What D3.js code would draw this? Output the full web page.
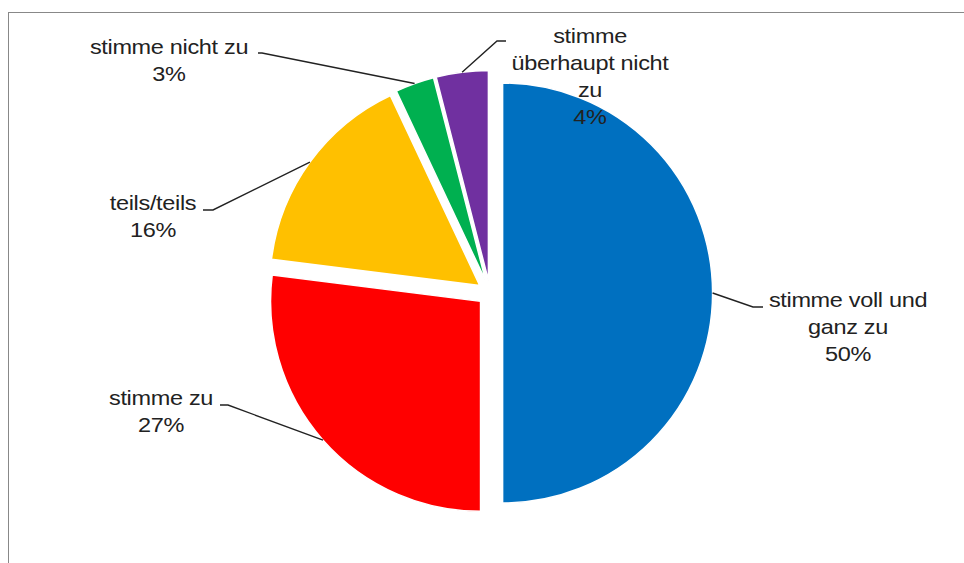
<!DOCTYPE html>
<html>
<head>
<meta charset="utf-8">
<script src="https://cdn.jsdelivr.net/npm/d3@7"></script>
<style>
  html, body { margin: 0; padding: 0; background: #fff; }
  svg { display: block; }
  text { font-family: "Liberation Sans", Arial, sans-serif; font-size: 21px; fill: #222; letter-spacing: -0.3px; }
</style>
</head>
<body>
<svg id="chart" width="964" height="563"></svg>
<script>
// ---- data ----
const categories = ["stimme voll und ganz zu", "stimme zu", "teils/teils", "stimme nicht zu", "stimme überhaupt nicht zu"];
const values = [50, 27, 16, 3, 4];
const colors = ["#0070C0", "#FF0000", "#FFC000", "#00B050", "#7030A0"];
const labelLines = [
  ["stimme voll und", "ganz zu", "50%"],
  ["stimme zu", "27%"],
  ["teils/teils", "16%"],
  ["stimme nicht zu", "3%"],
  ["stimme", "überhaupt nicht", "zu", "4%"]
];

// ---- layout (not data) ----
const cx = 490, cy = 293, R = 210, explode = 12.6;
const lineH = 27;
// label anchor (center x, first baseline y) and leader elbow
const labelLayout = [
  { x: 848, y: 307, elbow: [753, 307], end: [763, 307] },
  { x: 161, y: 405, elbow: [228, 405], end: [220, 405] },
  { x: 153, y: 210, elbow: [213, 210], end: [203, 210] },
  { x: 169, y: 54,  elbow: [262, 53],  end: [258, 53] },
  { x: 590, y: 43,  elbow: [497, 41],  end: [506, 41] }
];

const svg = d3.select("#chart");

// border
svg.append("rect")
  .attr("x", 8.5).attr("y", 12.5)
  .attr("width", 1000).attr("height", 600)
  .attr("fill", "none").attr("stroke", "#888").attr("stroke-width", 1);

const pie = d3.pie().sort(null).value(d => d).startAngle(0).endAngle(2 * Math.PI);
const arcs = pie(values);
const arc = d3.arc().innerRadius(0).outerRadius(R);

const g = svg.append("g").attr("transform", `translate(${cx},${cy})`);

function offset(a) {
  const m = (a.startAngle + a.endAngle) / 2;
  return [Math.sin(m) * explode, -Math.cos(m) * explode];
}

g.selectAll("path.slice")
  .data(arcs)
  .enter().append("path")
  .attr("class", "slice")
  .attr("d", arc)
  .attr("transform", d => { const o = offset(d); return `translate(${o[0]},${o[1]})`; })
  .attr("fill", (d, i) => colors[i])
  .attr("stroke", "#fff")
  .attr("stroke-width", 1.5);

// leader lines
arcs.forEach((a, i) => {
  const m = (a.startAngle + a.endAngle) / 2;
  const o = offset(a);
  const px = cx + o[0] + Math.sin(m) * R;
  const py = cy + o[1] - Math.cos(m) * R;
  const L = labelLayout[i];
  svg.append("polyline")
    .attr("points", [[px, py], L.elbow, L.end].map(p => p.join(",")).join(" "))
    .attr("fill", "none")
    .attr("stroke", "#222")
    .attr("stroke-width", 1.4);
});

// labels
labelLines.forEach((lines, i) => {
  const L = labelLayout[i];
  const t = svg.append("g")
    .attr("transform", `translate(${L.x},${L.y}) scale(1.12,1)`);
  lines.forEach((ln, j) => {
    t.append("text")
      .attr("x", 0)
      .attr("y", j * lineH)
      .attr("text-anchor", "middle")
      .text(ln);
  });
});
</script>
</body>
</html>
